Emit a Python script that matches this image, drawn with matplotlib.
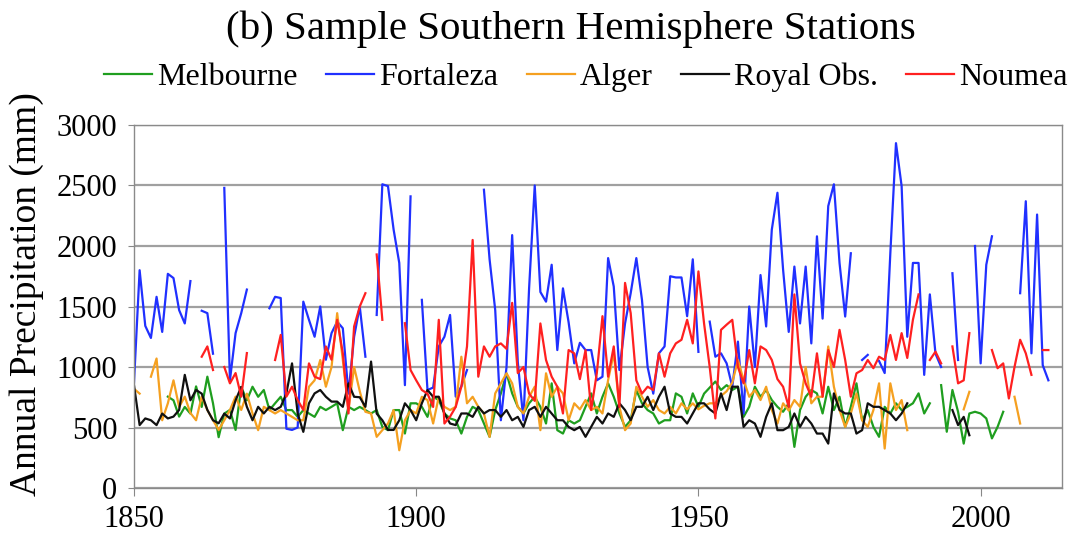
import matplotlib
matplotlib.use('Agg')
import matplotlib.pyplot as plt
import numpy as np

N = None
years = np.arange(1850, 2014)

# annual precipitation (mm), one row per decade, 1850-2013
melbourne = [
    N, N, N, N, N, N, 755, 725, 590, 670,
    615, 840, 670, 920, 700, 420, 615, 645, 480, 835,
    725, 837, 754, 810, 644, 700, 754, 644, 644, 588,
    644, 616, 588, 671, 644, 671, 700, 478, 671, 644,
    670, 644, 616, 644, 505, 478, 644, 644, 450, 700,
    700, 671, 588, 754, 727, 616, 575, 560, 450, 588,
    671, 644, 533, 423, 644, 782, 948, 782, 671, 616,
    700, 754, 671, 533, 865, 478, 450, 560, 533, 560,
    671, 782, 616, 754, 865, 754, 616, 505, 560, 810,
    700, 644, 616, 533, 560, 560, 782, 754, 616, 782,
    671, 780, 830, 880, 810, 850, 810, 837, 588, 671,
    837, 754, 810, 727, 671, 630, 700, 340, 644, 754,
    810, 782, 616, 837, 644, 754, 505, 671, 865, 560,
    644, 505, 423, 671, 616, 700, 644, 671, 700, 782,
    616, 700, N, 850, 465, 810, 630, 367, 616, 630,
    616, 575, 410, 505, 630, N, N, N, N, N,
    N, N, N, N]

fortaleza = [
    870, 1800, 1340, 1240, 1580, 1290, 1770, 1735, 1470, 1360,
    1710, N, 1465, 1445, 1110, N, 2480, 890, 1280, 1445,
    1640, N, N, N, 1485, 1580, 1570, 490, 480, 500,
    1540, 1390, 1250, 1500, 1060, 1280, 1375, 1320, 780, 1250,
    1500, 1085, N, 1430, 2510, 2495, 2135, 1860, 850, 2410,
    N, 1555, 810, 830, 1170, 1250, 1430, 755, 840, 975,
    N, N, 2465, 1890, 1470, 560, 1000, 2090, 1040, 560,
    1650, 2500, 1620, 1540, 1845, 1140, 1650, 1370, 1030, 1200,
    1140, 1140, 890, 920, 1900, 1665, 975, 1360, 1610, 1900,
    1555, 1000, 780, 1113, 1170, 1750, 1740, 1740, 1420, 1890,
    1125, N, 1375, 1085, 1113, 1030, 837, 1210, 616, 1500,
    1000, 1760, 1335, 2135, 2440, 1805, 1290, 1830, 1360, 1830,
    1195, 2080, 1400, 2330, 2510, 1860, 1417, 1940, N, 1058,
    1100, N, 1050, 950, 1940, 2850, 2495, 1250, 1860, 1860,
    935, 1600, 1110, 1000, N, 1775, 1058, N, N, 2000,
    1030, 1845, 2080, N, N, N, N, 1610, 2370, 1113,
    2260, 1015, 890, N]

alger = [
    820, 780, N, 920, 1070, 560, 700, 890, 670, 755,
    620, 560, 755, 645, 560, 480, 560, 645, 755, 645,
    780, 616, 478, 671, 644, 616, 644, 616, 588, 560,
    560, 837, 890, 1058, 837, 1000, 1445, 1058, 644, 1000,
    800, 630, 616, 423, 478, 533, 644, 312, 560, 644,
    616, 754, 727, 533, 754, 671, 644, 671, 1085, 700,
    754, 671, 616, 423, 782, 865, 948, 865, 671, 616,
    754, 837, 478, 948, 754, 837, 782, 560, 700, 650,
    727, 644, 671, 616, 892, 1113, 671, 478, 533, 837,
    754, 671, 727, 644, 616, 671, 616, 700, 650, 700,
    650, 680, 700, 700, 760, 800, 870, 1058, 892, 754,
    810, 727, 837, 644, 533, 700, 640, 727, 671, 1000,
    700, 754, 754, 1170, 837, 644, 505, 616, 782, 560,
    505, 644, 865, 326, 865, 644, 727, 478, N, N,
    N, N, N, N, N, N, N, 650, 795, N,
    N, N, N, N, N, N, 754, 533, N, N,
    N, N, N, N]

royal_obs = [
    850, 520, 575, 560, 520, 615, 575, 590, 645, 935,
    725, 810, 780, 645, 560, 535, 615, 575, 725, 835,
    671, 560, 671, 616, 671, 644, 671, 782, 1030, 616,
    464, 700, 782, 810, 754, 714, 714, 671, 865, 754,
    750, 671, 1045, 615, 560, 480, 480, 560, 700, 644,
    560, 700, 810, 754, 754, 616, 533, 520, 616, 616,
    588, 671, 616, 644, 644, 588, 644, 560, 588, 505,
    644, 671, 588, 671, 616, 560, 560, 505, 478, 505,
    423, 505, 588, 533, 616, 588, 700, 644, 560, 671,
    671, 754, 644, 754, 837, 616, 588, 588, 533, 616,
    700, 700, 650, 616, 782, 644, 837, 837, 505, 560,
    533, 423, 588, 700, 478, 478, 505, 616, 505, 588,
    533, 450, 450, 367, 782, 644, 616, 616, 450, 478,
    700, 671, 671, 644, 616, 560, 616, 700, N, N,
    N, N, N, N, N, 644, 520, 588, 436, N,
    N, N, N, N, N, N, N, N, N, N,
    N, N, N, N]

noumea = [
    N, N, N, N, N, N, N, N, N, N,
    N, N, 1085, 1170, 975, N, 1000, 865, 950, 755,
    1115, N, N, N, N, 1058, 1265, 755, 837, 727,
    645, 1030, 920, 900, 1170, 1060, 1390, 1113, 616, 1335,
    1500, 1610, N, 1930, 1390, N, N, N, 1362, 975,
    890, 810, 780, 670, 1390, 533, 590, 670, 837, 1170,
    2050, 920, 1170, 1085, 1170, 1195, 1150, 1530, 950, 1000,
    780, 720, 1360, 1058, 920, 837, 616, 1140, 1113, 900,
    1140, 645, 950, 1420, 920, 1170, 670, 1695, 1445, 890,
    780, 837, 810, 1113, 920, 1113, 1195, 1225, 1390, 1195,
    1790, 1360, 1000, 575, 1307, 1350, 1390, 1000, 865, 1140,
    865, 1170, 1140, 1058, 900, 837, 670, 1600, 1030, 865,
    754, 1113, 755, 1140, 1000, 1307, 1058, 755, 948, 975,
    1058, 990, 1085, 1058, 1265, 1058, 1280, 1075, 1390, 1600,
    N, 1058, 1127, 1030, N, 1170, 865, 890, 1280, N,
    N, N, 1140, 990, 1030, 740, 1000, 1225, 1113, 935,
    N, 1140, 1140, N]


def arr(v):
    return np.array([np.nan if x is None else x for x in v], dtype=float)


plt.rcParams['font.family'] = 'Liberation Serif'

fig = plt.figure(figsize=(10.77, 5.39), dpi=100)
ax = fig.add_axes([0.1244, 0.0946, 0.8616, 0.6735])

series = [('Melbourne', melbourne, '#1f9e1f'),
          ('Fortaleza', fortaleza, '#2030ff'),
          ('Alger', alger, '#f5a020'),
          ('Royal Obs.', royal_obs, '#101010'),
          ('Noumea', noumea, '#ff2020')]
for name, vals, col in series:
    ax.plot(years, arr(vals), color=col, lw=1.6, label=name)

ax.set_xlim(1850, 2014.4)
ax.set_ylim(0, 3000)
ax.set_xticks([1850, 1900, 1950, 2000])
ax.set_yticks(range(0, 3001, 500))
ax.grid(axis='y', color='#a0a0a0', lw=1.6)
ax.set_axisbelow(True)
ax.tick_params(axis='both', labelsize=22, color='#888888')
ax.tick_params(axis='x', length=6, pad=6)
ax.tick_params(axis='y', length=4, pad=8)
for s in ax.spines.values():
    s.set_color('#8a8a8a')
    s.set_linewidth(1.0)

fig.legend(ncol=5, loc='center', bbox_to_anchor=(0.544, 0.857), frameon=False,
           fontsize=23, handlelength=1.5, handletextpad=0.15, columnspacing=0.9)
fig.text(0.530, 0.945, '(b) Sample Southern Hemisphere Stations',
         ha='center', va='center', fontsize=29.5)
fig.text(0.025, 0.455, 'Annual Precipitation (mm)', rotation=90,
         ha='center', va='center', fontsize=27)

fig.savefig('out.png', dpi=100)
